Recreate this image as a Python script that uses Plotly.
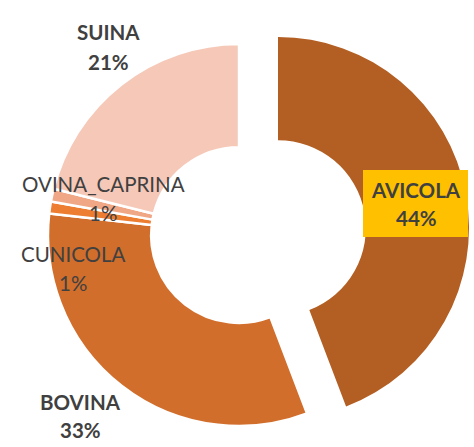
import plotly.graph_objects as go

categories = ["AVICOLA", "BOVINA", "CUNICOLA", "OVINA_CAPRINA", "SUINA"]
values = [44.2, 32.6, 1.0, 1.1, 21.1]
colors = ["#B35E22", "#D26E2B", "#ED7D31", "#F0A785", "#F5C8B8"]
bold_labels = ["AVICOLA", "BOVINA", "SUINA"]

W, H = 474, 447
R = 191.0
HOLE = 0.46
C1 = (239.0, 235.0)   # centre of the ring (px)
C2 = (278.0, 228.0)   # centre of the exploded AVICOLA slice (px)


def dom(c):
    x0, x1 = (c[0] - R) / W, (c[0] + R) / W
    y0, y1 = 1 - (c[1] + R) / H, 1 - (c[1] - R) / H
    return dict(x=[x0, x1], y=[y0, y1])


fig = go.Figure()

# main ring: every slice except AVICOLA
fig.add_trace(go.Pie(
    labels=categories, values=values, sort=False, direction="clockwise",
    rotation=0, hole=HOLE, domain=dom(C1), textinfo="none", hoverinfo="label+percent",
    marker=dict(colors=["rgba(0,0,0,0)"] + colors[1:],
                line=dict(color="white", width=[0, 2.5, 2.5, 2.5, 2.5])),
    showlegend=False,
))
# exploded AVICOLA slice
fig.add_trace(go.Pie(
    labels=categories, values=values, sort=False, direction="clockwise",
    rotation=0, hole=HOLE, domain=dom(C2), textinfo="none", hoverinfo="label+percent",
    marker=dict(colors=[colors[0]] + ["rgba(0,0,0,0)"] * 4,
                line=dict(color="white", width=0)),
    showlegend=False,
))

total = sum(values)
pcts = {c: round(v / total * 100) for c, v in zip(categories, values)}

# label anchor positions (px)
label_pos = {
    "SUINA": (108, 32, 62),
    "AVICOLA": (416, 190, 218),
    "OVINA_CAPRINA": (103, 184, 213),
    "CUNICOLA": (73, 254, 283),
    "BOVINA": (80, 402, 430),
}

shapes = [dict(type="rect", xref="paper", yref="paper",
               x0=363 / W, x1=468 / W, y0=1 - 237 / H, y1=1 - 170 / H,
               fillcolor="#FFC000", line=dict(width=0), layer="above")]

annotations = []
for c in categories:
    x, y1, y2 = label_pos[c]
    b = c in bold_labels
    for txt, y in ((c, y1), (f"{pcts[c]}%", y2)):
        annotations.append(dict(
            x=x / W, y=1 - y / H, xref="paper", yref="paper",
            text=f"<b>{txt}</b>" if b else txt, showarrow=False,
            xanchor="center", yanchor="middle",
            font=dict(family="Lato", size=20.5, color="#404040"),
        ))

fig.update_layout(
    width=W, height=H, margin=dict(l=0, r=0, t=0, b=0),
    paper_bgcolor="white", plot_bgcolor="white",
    shapes=shapes, annotations=annotations,
)

fig.write_html(
    "out.html",
    config={"displayModeBar": False},
    post_script="document.body.style.margin='0';document.body.style.overflow='hidden';",
)
